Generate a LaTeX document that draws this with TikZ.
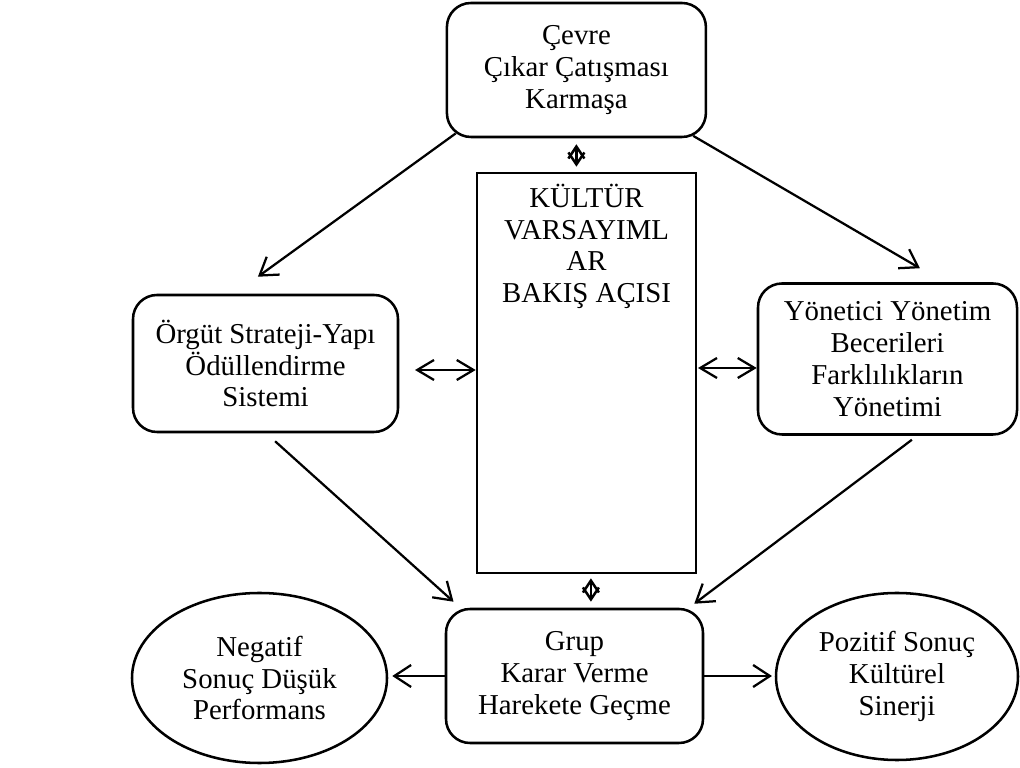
\documentclass[tikz,border=0pt]{standalone}
\usepackage{fontspec}
\setmainfont{Liberation Serif}
\usepackage{tikz}
\usetikzlibrary{arrows.meta,positioning,shapes.geometric,calc}

\begin{document}
\begin{tikzpicture}[
  box/.style={draw,line width=1.8pt,rounded corners=0.6cm,align=center,
    font=\fontsize{20.5}{22.6}\selectfont,inner sep=2pt},
  oval/.style={draw,ellipse,line width=1.8pt,align=center,inner sep=0pt,
    font=\fontsize{20.5}{22.6}\selectfont},
  arr/.style={line width=1.6pt,-{Straight Barb[length=0.42cm,width=0.55cm]}},
  dbl/.style={line width=1.6pt,
    {Straight Barb[length=0.42cm,width=0.5cm]}-{Straight Barb[length=0.42cm,width=0.5cm]}},
  tinydbl/.style={line width=1.8pt,
    {Straight Barb[length=0.3cm,width=0.4cm]}-{Straight Barb[length=0.3cm,width=0.4cm]}}]
  \useasboundingbox (0,0) rectangle (25.5,19.175);
  % Top
  \node[box,minimum width=6.475cm,minimum height=3.35cm] (cevre) at (14.41,17.425)
    {Çevre\\Çıkar Çatışması\\Karmaşa};
  % Culture column
  \node[draw,line width=1.8pt,minimum width=5.475cm,minimum height=10cm] (kultur)
    at (14.6625,9.85) {};
  \node[font=\fontsize{20.5}{22.6}\selectfont,align=center,anchor=north] (kulturtext)
    at ([yshift=-0.18cm]kultur.north) {KÜLTÜR\\VARSAYIML\\AR\\BAKIŞ AÇISI};
  % Side boxes
  \node[box,minimum width=6.625cm,minimum height=3.425cm] (orgut) at (6.6375,10.0875)
    {Örgüt Strateji-Yapı\\Ödüllendirme\\Sistemi};
  \node[box,minimum width=6.475cm,minimum height=3.775cm] (yonetici) at (22.1875,10.2)
    {Yönetici Yönetim\\Becerileri\\Farklılıkların\\Yönetimi};
  % Bottom row
  \node[box,minimum width=6.425cm,minimum height=3.35cm] (grup) at (14.3625,2.275)
    {Grup\\Karar Verme\\Harekete Geçme};
  \node[oval,minimum width=6.375cm,minimum height=4.25cm] (negatif) at (6.4875,2.225)
    {Negatif\\Sonuç Düşük\\Performans};
  \node[oval,minimum width=6.05cm,minimum height=4.175cm] (pozitif) at (22.425,2.2625)
    {Pozitif Sonuç\\Kültürel\\Sinerji};
  % Diagonal arrows
  \draw[arr] ([xshift=0.25cm,yshift=0.12cm]cevre.south west)
    -- ([xshift=-0.19cm,yshift=0.425cm]orgut.north);
  \draw[arr] ([xshift=-0.35cm,yshift=0.06cm]cevre.south east)
    -- ([xshift=0.81cm,yshift=0.35cm]yonetici.north);
  \draw[arr] ([xshift=0.24cm,yshift=-0.2cm]orgut.south)
    -- ([xshift=0.22cm,yshift=0.15cm]grup.north west);
  \draw[arr] ([xshift=0.61cm,yshift=-0.1cm]yonetici.south)
    -- ([xshift=-0.25cm,yshift=0.1cm]grup.north east);
  % Side double arrows
  \coordinate (lx) at (10.375,9.925);
  \draw[dbl] (lx) -- (lx -| kultur.west);
  \coordinate (rx) at (17.45,9.975);
  \draw[dbl] (rx) -- (rx -| yonetici.west);
  % Small double arrows
  \draw[tinydbl,shorten <=0.15cm,shorten >=0.125cm]
    (cevre.south) -- (cevre.south |- kultur.north);
  \draw[tinydbl,shorten <=0.1cm,shorten >=0.15cm]
    ([xshift=0.11cm]kultur.south) -- ([xshift=0.11cm]kultur.south |- grup.north);
  % Outcomes
  \draw[arr,shorten >=0.1cm] (grup.west) -- (grup.west -| negatif.east);
  \draw[arr,shorten >=0.07cm] (grup.east) -- (grup.east -| pozitif.west);
\end{tikzpicture}
\end{document}
